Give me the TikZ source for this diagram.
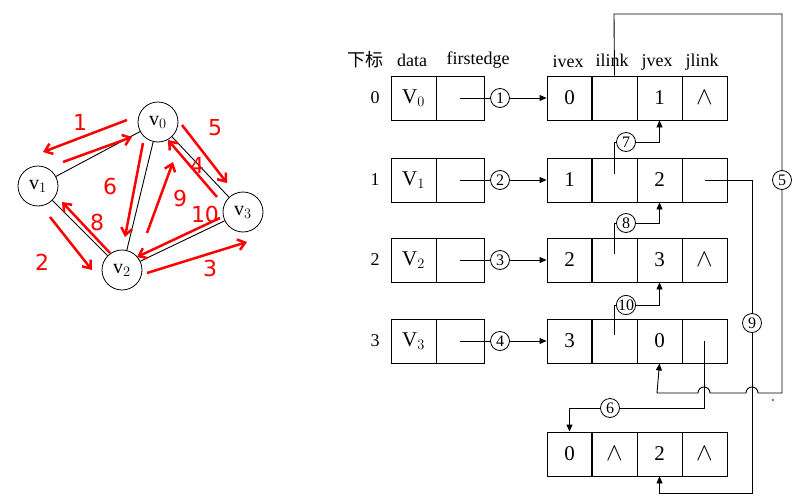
\documentclass[tikz,border=0pt]{standalone}
\usepackage{fontspec}
\setmainfont{Liberation Serif}
\newfontfamily\cjk{Noto Sans CJK SC}
\newfontfamily\hand{DejaVu Sans}
\usetikzlibrary{arrows.meta}
\newcommand{\wdg}{{\fontsize{30}{30}\selectfont$\wedge$}}
\begin{document}
\begin{tikzpicture}[x=1pt,y=-1pt,
  cell/.style={draw,line width=0.9pt,minimum height=44pt,inner sep=0pt,font=\fontsize{21}{24}\selectfont},
  cw/.style={cell,minimum width=45pt},
  gv/.style={draw,circle,line width=0.8pt,minimum size=40pt,inner sep=0pt,font=\fontsize{20}{22}\selectfont},
  cn/.style={draw,circle,line width=0.8pt,inner sep=0pt,minimum size=19pt,font=\fontsize{16}{17}\selectfont,fill=white},
  hd/.style={font=\fontsize{18}{20}\selectfont},
  ln/.style={line width=0.9pt},
  ar/.style={ln,-{Triangle[length=7pt,width=6pt]}},
  rd/.style={red,line width=2.5pt,-{Straight Barb[length=7pt,width=11pt]}},
  rt/.style={red,font=\hand\fontsize{22}{24}\selectfont}]
\useasboundingbox (0,0) rectangle (804,498);
% graph
\node[gv] (g0) at (158,122) {v$_0$};
\node[gv] (g1) at (38,186) {v$_1$};
\node[gv] (g2) at (122,270) {v$_2$};
\node[gv] (g3) at (243,212) {v$_3$};
\draw[ln] (g0)--(g1) (g0)--(g2) (g0)--(g3) (g1)--(g2) (g2)--(g3);
% red annotations
\draw[rd] (127,120)--(43,152); \node[rt] (t1) at (80,122) {1};
\draw[rd] (63,162)--(132,137); \node[rt] (t6) at (110,186) {6};
\draw[rd] (50,217)--(92,270); \node[rt] (t2) at (42,262) {2};
\draw[rd] (110,253)--(62,202); \node[rt] (t8) at (97,222) {8};
\draw[rd] (143,143)--(125,237);
\draw[rd] (147,233)--(173,162); \node[rt] (t9) at (180,198) {9};
\draw[rd] (217,197)--(168,140); \node[rt] (t4) at (197,165) {4};
\draw[rd] (182,125)--(227,183); \node[rt] (t5) at (215,128) {5};
\draw[rd] (220,218)--(137,257); \node[rt] (t10) at (205,214) {10};
\draw[rd] (147,273)--(247,242); \node[rt] (t3) at (210,268) {3};
\fill[red] (773,400) circle (1.2pt);
% headers
\node[hd] (h0) at (365,60) {\cjk 下标};
\node[hd] (h1) at (412,60) {data};
\node[hd] (h2) at (478,60) {firstedge};
\node[hd] (h3) at (568,62) {ivex};
\node[hd] (h4) at (612,60) {ilink};
\node[hd] (h5) at (657,62) {jvex};
\node[hd] (h6) at (702,62) {jlink};
% vertex table
\foreach \i/\y in {0/98,1/180,2/260,3/341}{
  \node[hd] (idx\i) at (375,\y) {\i};
  \node[cw] (d\i) at (413.5,\y) {V$_\i$};
  \node[cell,minimum width=48pt] (f\i) at (460,\y) {};
}
% edge nodes
\foreach \r/\y/\a/\b/\c/\d in {0/98/0//1/\wdg,1/180/1//2/,2/260/2//3/\wdg,3/341/3//0/,4/454/0/\wdg/2/\wdg}{
  \node[cw] (e\r a) at (569.5,\y) {\a};
  \node[cw,minimum width=46pt] (e\r b) at (614.5,\y) {\b};
  \node[cw] (e\r c) at (659.5,\y) {\c};
  \node[cw] (e\r d) at (704.5,\y) {\d};
}
\foreach \i/\n/\y in {0/1/98,1/2/180,2/3/260,3/4/341}{
  \node[cn] (k\n) at (500,\y) {\n};
  \draw[ln] (f\i.center)--(k\n);
  \draw[ar] (k\n)--(e\i a);
}
% 5
\node[cn] (k5) at (782,180) {5};
\coordinate (p5a) at (614,14);
\coordinate (p5b) at (782,14);
\coordinate (p5c) at (782,393);
\draw[ln] (e0b.north)--(p5a)--(p5b)--(k5);
\draw[ar] (k5)--(p5c)--(758,393) arc (0:180:6pt) -- (710,393) arc(0:180:6pt) -- (657,393)--(e3c.south);
% 7 8 10
\foreach \r/\u/\n/\y in {1/0/7/142,2/1/8/223,3/2/10/305}{
  \node[cn] (k\n) at (626,\y) {\n};
  \draw[ln] (e\r b.center)++(0,-6) |- (k\n);
  \draw[ar] (k\n) -| (e\u c.south);
}
% 9
\node[cn] (k9) at (752,323) {9};
\draw[ln] (e1d.center)-|(k9);
\draw[ar] (k9)--(752,493)-|(e4c.south);
% 6
\node[cn] (k6) at (610,408) {6};
\draw[ln] (e3d.center)|-(k6);
\draw[ar] (k6)-|(e4a.north);
\end{tikzpicture}
\end{document}
